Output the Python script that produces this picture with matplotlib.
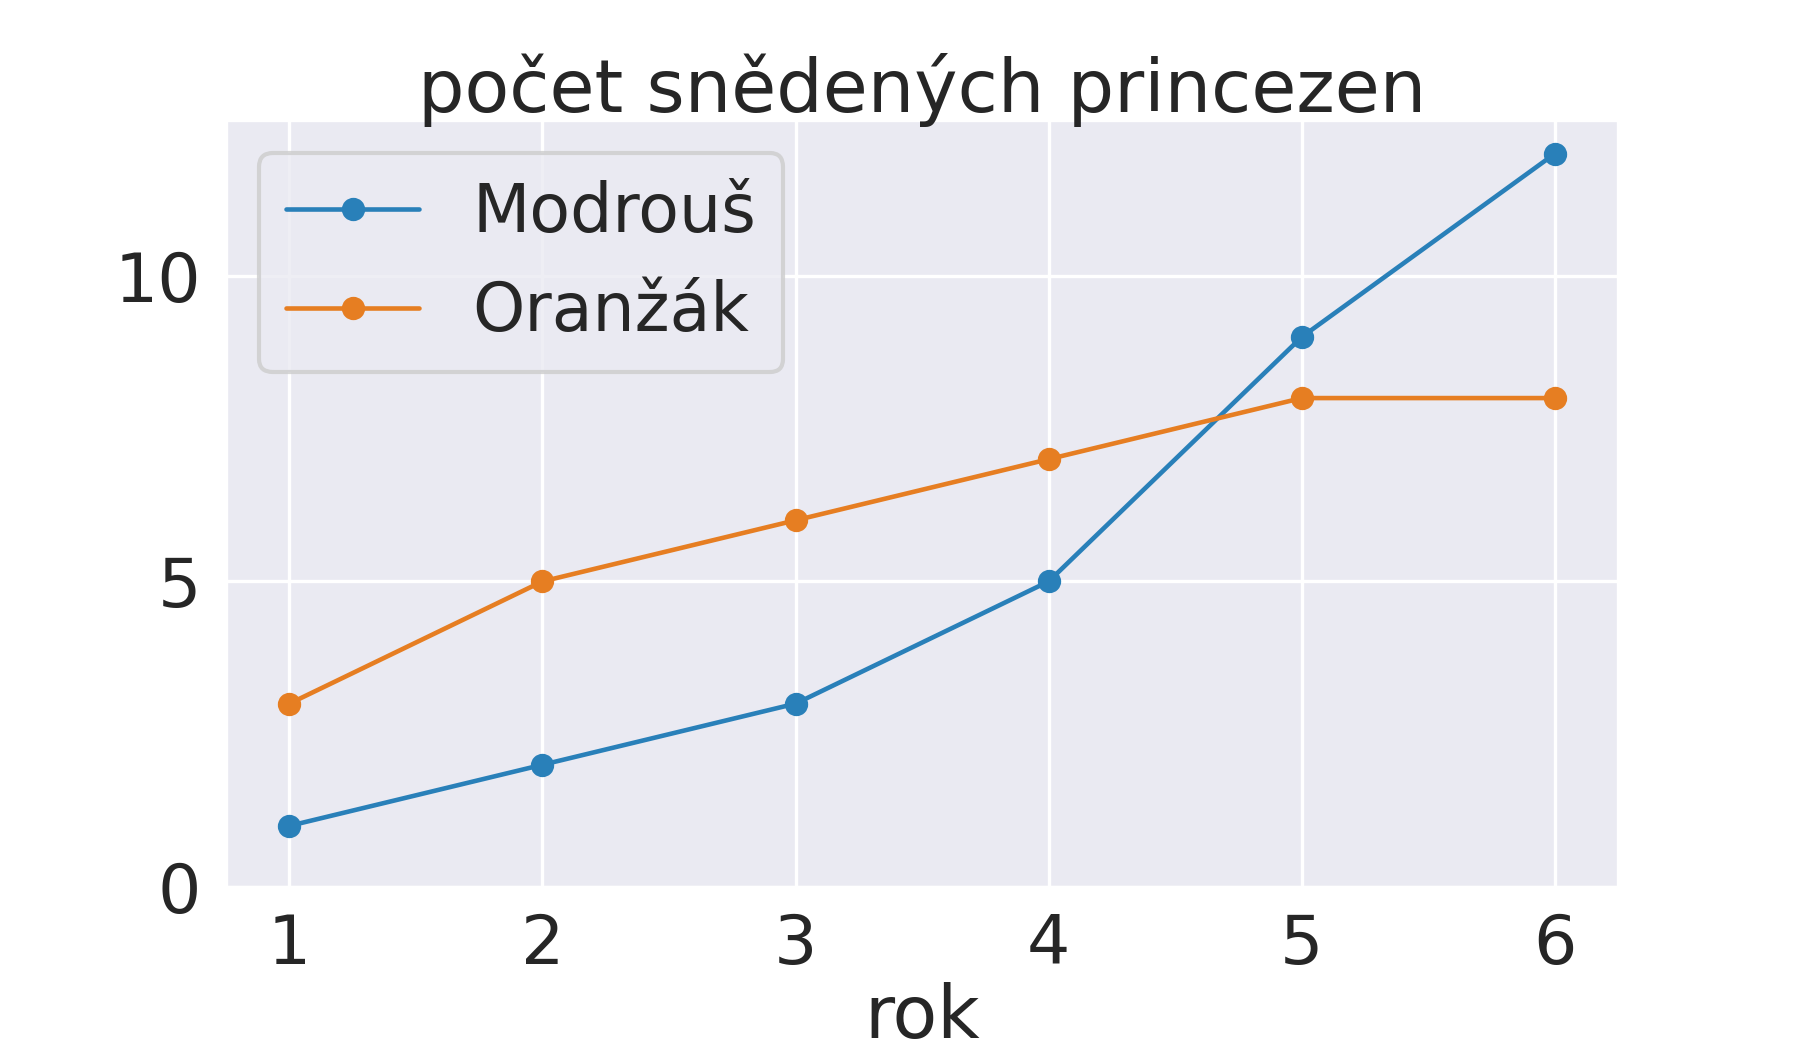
import matplotlib
matplotlib.use("Agg")
import matplotlib.pyplot as plt
import seaborn as sns

roky = [1, 2, 3, 4, 5, 6]
modrous = [1, 2, 3, 5, 9, 12]
oranzak = [3, 5, 6, 7, 8, 8]

sns.set_style("darkgrid")
plt.rcParams["font.family"] = ["DejaVu Sans"]

fig = plt.figure(figsize=(6, 1039 / 300), dpi=300)
ax = fig.add_axes([0.1256, 0.1463, 0.899 - 0.1256, 0.8845 - 0.1463])

ax.plot(roky, modrous, marker="o", color="#2980b9", lw=1.1, ms=4.6, label="Modrouš")
ax.plot(roky, oranzak, marker="o", color="#e67e22", lw=1.1, ms=4.6, label="Oranžák")
ax.set_ylim(bottom=0)
ax.set_yticks([0, 5, 10])

ax.set_title("počet snědených princezen", fontsize=17.6, pad=2)
ax.set_xlabel("rok", fontsize=17.6, labelpad=1)
ax.tick_params(labelsize=16.4, pad=2.5)
ax.grid(color="white", lw=0.8)

ax.legend(loc="upper left", fontsize=16)

fig.savefig("out.png", dpi=300)
